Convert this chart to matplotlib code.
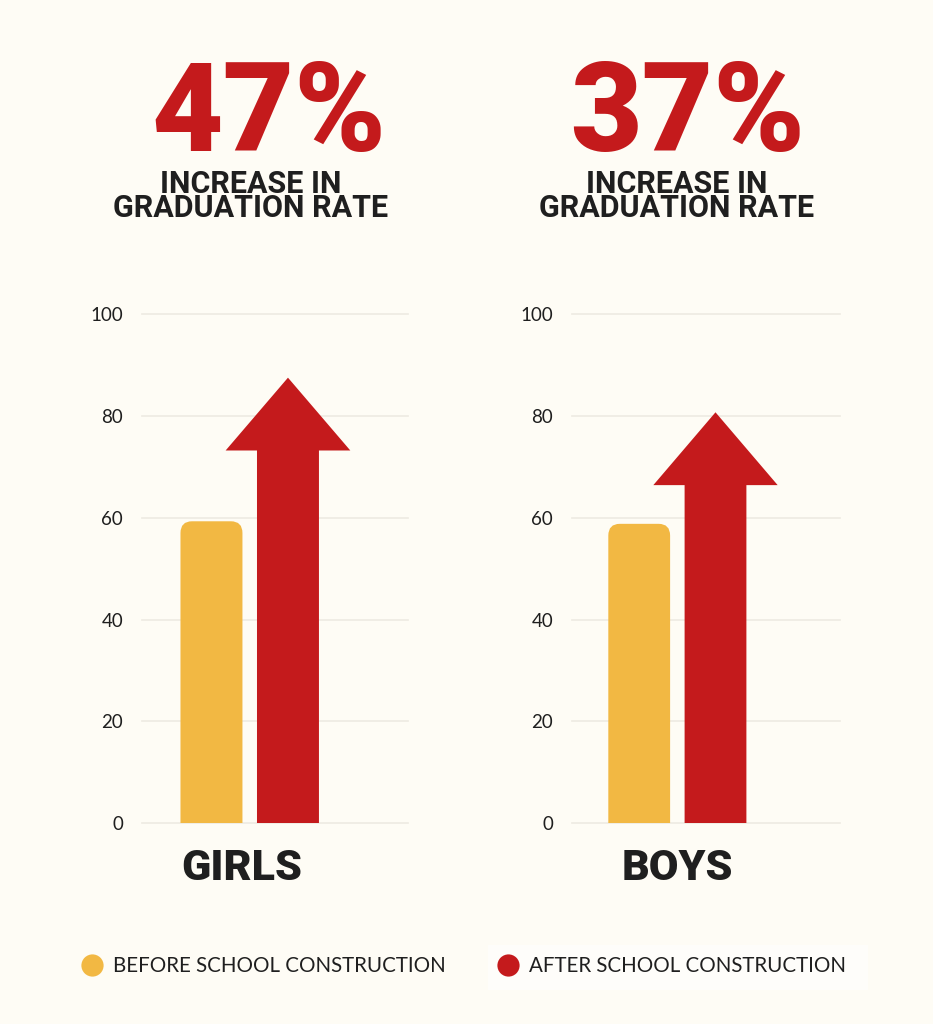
import matplotlib
matplotlib.use('Agg')
import matplotlib.pyplot as plt
from matplotlib.path import Path
from matplotlib.patches import PathPatch, Polygon, Rectangle
from matplotlib.lines import Line2D

# ---------------- data ----------------
groups = ['GIRLS', 'BOYS']
before = [59.3, 58.8]
after = [87.5, 80.7]
headlines = ['47%', '37%']
subtitle = 'INCREASE IN\nGRADUATION RATE'
series = ['BEFORE SCHOOL CONSTRUCTION', 'AFTER SCHOOL CONSTRUCTION']
yticks = [0, 20, 40, 60, 80, 100]

# ---------------- style ----------------
BG = '#FEFCF5'
RED = '#C41A1C'
YEL = '#F2B843'
DARK = '#1F1F1F'
GRID = '#EEEAE2'
W, H = 933, 1024

fig = plt.figure(figsize=(W / 100, H / 100), dpi=100, facecolor=BG)

def fx(px):
    return px / W

def fy(py):
    return 1 - py / H

panels = [
    dict(x0=142, x1=408, xlim=(-0.908, 2.569), head_x=269, sub_x=251),
    dict(x0=572, x1=840, xlim=(-0.881, 2.632), head_x=688, sub_x=677),
]
y_top, y_bot = 314, 823.3
bar_w = 0.81
head_w = 1.63
head_len = 14.3

for i, p in enumerate(panels):
    ax = fig.add_axes([fx(p['x0']), fy(y_bot), fx(p['x1'] - p['x0']), (y_bot - y_top) / H])
    ax.set_facecolor('none')
    ax.set_xlim(*p['xlim'])
    ax.set_ylim(0, 100)
    for s in ax.spines.values():
        s.set_visible(False)
    ax.set_xticks([])
    ax.set_yticks(yticks)
    ax.set_yticklabels([str(t) for t in yticks], fontsize=13.5, color=DARK, family='Lato')
    ax.tick_params(axis='y', length=0, pad=13.5)
    for t in yticks:
        ax.axhline(t, color=GRID, lw=1.2, zorder=0, clip_on=False)

    # yellow bar with rounded top corners
    b = before[i]
    l, r = -bar_w / 2, bar_w / 2
    rx, ry = 0.15, 2.3
    verts = [(l, 0), (r, 0), (r, b - ry), (r, b), (r - rx, b), (l + rx, b), (l, b), (l, b - ry), (l, 0)]
    codes = [Path.MOVETO, Path.LINETO, Path.LINETO, Path.CURVE3, Path.CURVE3,
             Path.LINETO, Path.CURVE3, Path.CURVE3, Path.CLOSEPOLY]
    ax.add_patch(PathPatch(Path(verts, codes), facecolor=YEL, edgecolor='none', zorder=2))

    # red arrow
    a = after[i]
    c = 1.0
    hb = a - head_len
    arrow = [(c - bar_w / 2, 0), (c + bar_w / 2, 0), (c + bar_w / 2, hb), (c + head_w / 2, hb),
             (c, a), (c - head_w / 2, hb), (c - bar_w / 2, hb)]
    ax.add_patch(Polygon(arrow, closed=True, facecolor=RED, edgecolor='none', zorder=2))

    # group label
    ax.text(0.5 - 0.1 * (i == 0), -11.2, groups[i], ha='center', va='baseline',
            fontsize=31, fontweight='black', family='Roboto', color=DARK, clip_on=False)

    # headline
    fig.text(fx(p['head_x']), fy(150.5), headlines[i], ha='center', va='baseline',
             fontsize=89, fontweight='black', family='Roboto', color=RED)
    fig.text(fx(p['sub_x']), fy(216.7), subtitle, ha='center', va='baseline',
             multialignment='center', linespacing=0.74,
             fontsize=22, fontweight='bold', family='Roboto', color=DARK)

# subtle white box behind second legend entry
fig.patches.append(Rectangle((fx(488), fy(990)), fx(380), 45 / H, transform=fig.transFigure,
                             facecolor='#FFFFFF', edgecolor='none', alpha=0.6, zorder=0))

handles = [Line2D([], [], marker='o', linestyle='none', markersize=16, markerfacecolor=col,
                  markeredgecolor='none') for col in (YEL, RED)]
leg = fig.legend(handles, series, loc='center left', bbox_to_anchor=(fx(82), fy(966.5)),
                 ncol=2, frameon=False, borderpad=0, borderaxespad=0, handlelength=1.0,
                 handletextpad=0.5, columnspacing=2.55,
                 prop=dict(family='Lato', weight='normal', size=14.8))
for t in leg.get_texts():
    t.set_color(DARK)

fig.savefig('out.png', dpi=100, facecolor=BG)
